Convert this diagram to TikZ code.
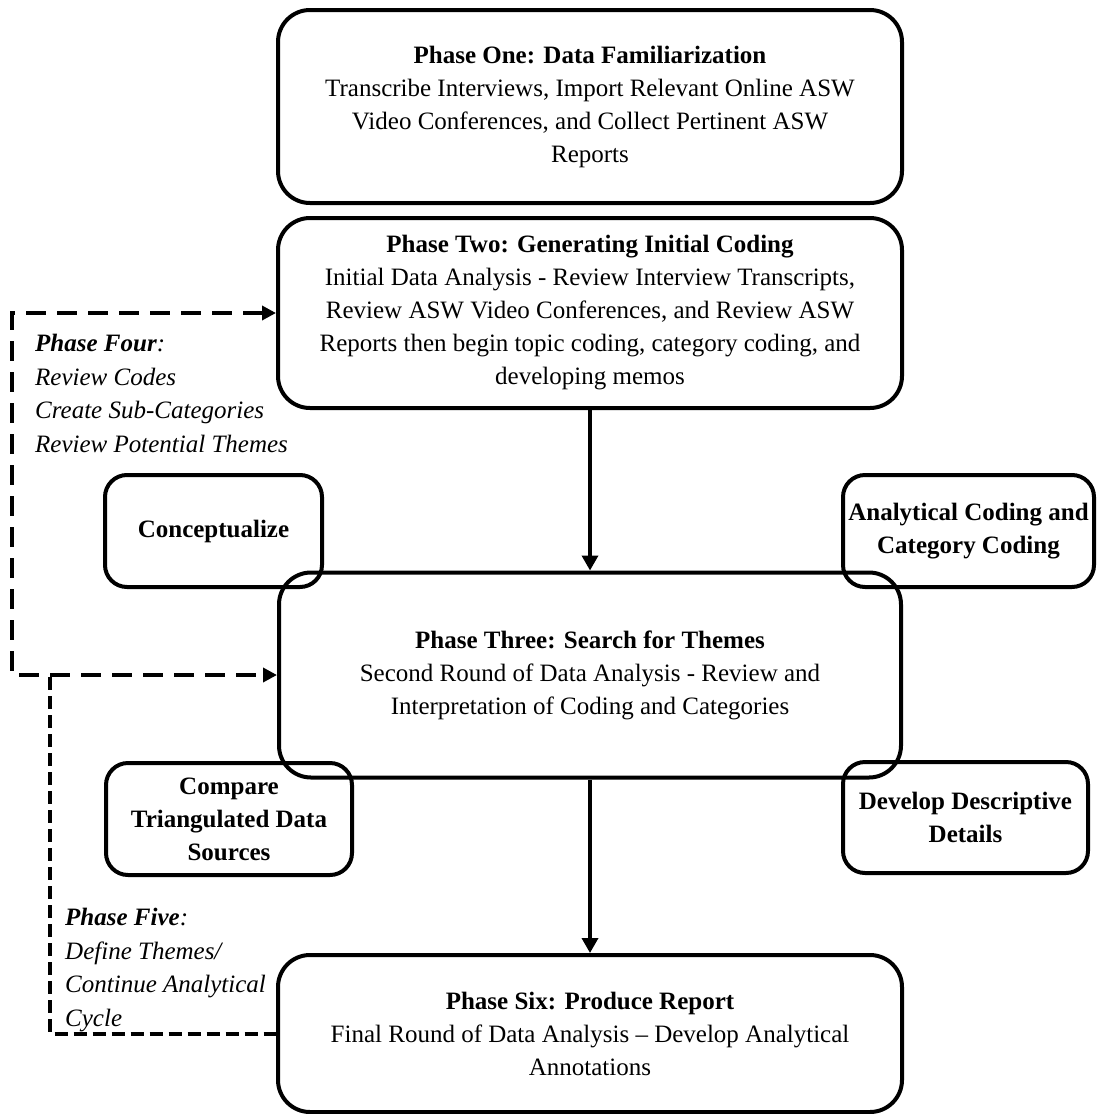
\documentclass[tikz,border=0pt]{standalone}
\usepackage{fontspec}
\setmainfont{Liberation Serif}
\usetikzlibrary{arrows.meta}
\begin{document}
\begin{tikzpicture}[x=1pt,y=-1pt,
  txt/.style={font=\fontsize{25}{33}\selectfont},
  mainbox/.style={draw, line width=4pt, rounded corners=32pt, align=center, inner sep=0pt, txt},
  sidebox/.style={draw, line width=4pt, rounded corners=22pt, align=center, inner sep=0pt, font=\fontsize{25}{33}\selectfont\bfseries},
  flow/.style={line width=3.5pt, -{Triangle[length=15pt,width=16pt]}},
  reviewloop/.style={line width=4pt, dash pattern=on 20pt off 11pt},
  defineloop/.style={line width=4pt, dash pattern=on 13pt off 6pt},
  note/.style={anchor=west, align=left, inner sep=0pt, font=\fontsize{25}{33.5}\selectfont\itshape}
]
\useasboundingbox (0,0) rectangle (1096,1114);

% main phases
\node[mainbox, minimum width=624pt, minimum height=193pt] (p1) at (590,106.5)
  {\textbf{Phase One: Data Familiarization}\\
   Transcribe Interviews, Import Relevant Online ASW\\
   Video Conferences, and Collect Pertinent ASW\\
   Reports};
\node[mainbox, minimum width=624pt, minimum height=190pt] (p2) at (590,313)
  {\textbf{Phase Two: Generating Initial Coding}\\
   Initial Data Analysis - Review Interview Transcripts,\\
   Review ASW Video Conferences, and Review ASW\\
   Reports then begin topic coding, category coding, and\\
   developing memos};
\node[mainbox, minimum width=622pt, minimum height=205pt] (p3) at (590,675)
  {\textbf{Phase Three: Search for Themes}\\
   Second Round of Data Analysis - Review and\\
   Interpretation of Coding and Categories};
\node[mainbox, minimum width=624pt, minimum height=157pt] (p6) at (590,1033.5)
  {\textbf{Phase Six: Produce Report}\\
   Final Round of Data Analysis -- Develop Analytical\\
   Annotations};

% activities around phase three
\node[sidebox, minimum width=217pt, minimum height=112pt] (concept) at (213.5,531) {Conceptualize};
\node[sidebox, minimum width=251pt, minimum height=112pt] (analytic) at (968.5,531) {Analytical Coding and\\Category Coding};
\node[sidebox, minimum width=246pt, minimum height=112pt] (compare) at (229,819) {Compare\\Triangulated Data\\Sources};
\node[sidebox, minimum width=245pt, minimum height=111pt] (develop) at (965.5,817.5) {Develop Descriptive\\Details};

% forward flow
\draw[flow] (p2.south) -- (p3.north);
\draw[flow] (p3.south) -- (p6.north);

% phase four review loop
\coordinate (loopTop) at (12,313);
\coordinate (loopBot) at (12,675);
\draw[reviewloop, {Triangle[length=14pt,width=14pt]}-{Triangle[length=14pt,width=14pt]}]
  (p2.west) -- (loopTop) -- (loopBot) -- (p3.west);
\node[note] (four) at (35,393.5)
  {\textbf{Phase Four}:\\Review Codes\\Create Sub-Categories\\Review Potential Themes};

% phase five loop
\coordinate (fiveTop) at (50,677);
\coordinate (fiveBot) at (50,1033.5);
\draw[defineloop] (fiveTop) -- (fiveBot) -- (p6.west);
\node[note] (five) at (65,970)
  {\textbf{Phase Five}:\\Define Themes/\\Continue Analytical\\Cycle};
\end{tikzpicture}
\end{document}
